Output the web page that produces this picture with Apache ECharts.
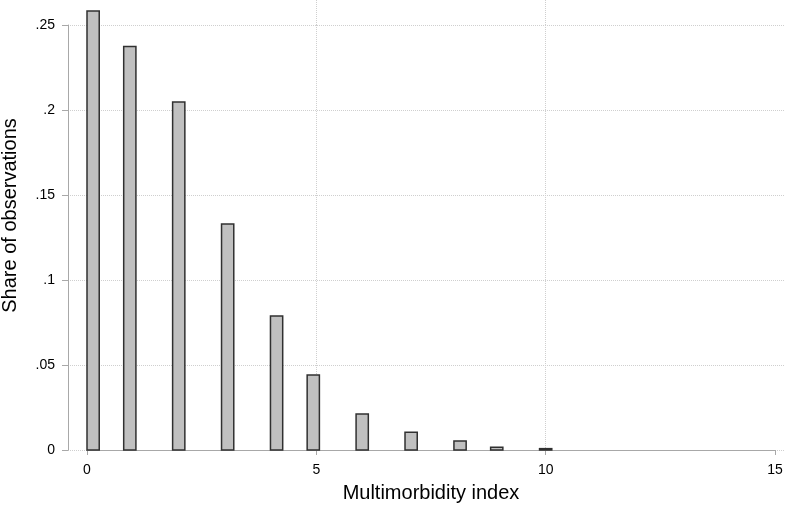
<!DOCTYPE html>
<html>
<head>
<meta charset="utf-8">
<title>Multimorbidity index histogram</title>
<script src="https://cdn.jsdelivr.net/npm/echarts@6/dist/echarts.min.js"></script>
<style>
  html, body { margin: 0; padding: 0; background: #fff; }
  #chart { width: 787px; height: 508px; }
</style>
</head>
<body>
<div id="chart"></div>
<script>
// histogram bins (Stata style): bin index and width in index units
var binWidth = 4 / 15;
var binIndex = [0, 3, 7, 11, 15, 18, 22, 26, 30, 33, 37];
// share of observations in each bin
var shares = [0.2582, 0.2373, 0.2047, 0.1329, 0.0788, 0.0441, 0.0212, 0.0104, 0.0053, 0.0016, 0.0008];
var xTicks = [0, 5, 10, 15];
var yTicks = [0, 0.05, 0.1, 0.15, 0.2, 0.25];

var font = '"Liberation Sans", Arial, sans-serif';
var axisGray = '#a8a8a8';
var gridGray = '#cfcfcf';

// left edge of each bin + its height
var histData = binIndex.map(function (k, i) {
  return [k * binWidth, shares[i]];
});

var chart = echarts.init(document.getElementById('chart'));

var dotted = { color: gridGray, type: 'dotted', width: 1 };
var noAxis = { show: false };

// helper: hidden axes that only draw dotted gridlines
function gridOnlyX(idx) {
  return {
    type: 'value', gridIndex: idx,
    min: xTicks[0], max: xTicks[xTicks.length - 1], interval: 5,
    axisLine: noAxis, axisTick: noAxis, axisLabel: noAxis,
    splitLine: { show: idx === 1, showMinLine: false, showMaxLine: false, lineStyle: dotted }
  };
}
function gridOnlyY(idx) {
  return {
    type: 'value', gridIndex: idx,
    min: yTicks[0], max: yTicks[yTicks.length - 1], interval: 0.05,
    axisLine: noAxis, axisTick: noAxis, axisLabel: noAxis,
    splitLine: { show: idx !== 1, showMinLine: true, showMaxLine: true, lineStyle: dotted }
  };
}

var option = {
  backgroundColor: '#fff',
  animation: false,
  grid: [
    // main plot
    { left: 87, right: 12, top: 25, bottom: 58, containLabel: false, outerBoundsMode: 'none' },
    // strip above .25 so the vertical gridlines run to the top edge
    { left: 87, right: 12, top: 0, height: 25, containLabel: false, outerBoundsMode: 'none' },
    // strips left and right so the horizontal gridlines run out to the frame
    { left: 68, width: 19, top: 25, bottom: 58, containLabel: false, outerBoundsMode: 'none' },
    { left: 775, right: 2, top: 25, bottom: 58, containLabel: false, outerBoundsMode: 'none' }
  ],
  xAxis: [
    {
      type: 'value',
      gridIndex: 0,
      min: xTicks[0],
      max: xTicks[xTicks.length - 1],
      interval: 5,
      name: 'Multimorbidity index',
      nameLocation: 'middle',
      nameGap: 33,
      nameTextStyle: { color: '#000', fontSize: 20, fontFamily: font },
      axisLine: { show: true, onZero: false, lineStyle: { color: axisGray, width: 1 } },
      axisTick: { show: true, length: 5, lineStyle: { color: axisGray, width: 1 } },
      axisLabel: { color: '#000', fontSize: 14, fontFamily: font, margin: 13 },
      splitLine: { show: true, showMinLine: false, showMaxLine: false, lineStyle: dotted }
    },
    gridOnlyX(1),
    gridOnlyX(2),
    gridOnlyX(3)
  ],
  yAxis: [
    {
      type: 'value',
      gridIndex: 0,
      min: yTicks[0],
      max: yTicks[yTicks.length - 1],
      interval: 0.05,
      offset: 19,
      name: 'Share of observations',
      nameLocation: 'middle',
      nameRotate: 90,
      nameGap: 48,
      nameTextStyle: { color: '#000', fontSize: 20, fontFamily: font, padding: [0, 0, 0, 44] },
      axisLine: { show: true, onZero: false, lineStyle: { color: axisGray, width: 1 } },
      axisTick: { show: true, length: 6, lineStyle: { color: axisGray, width: 1 } },
      axisLabel: {
        color: '#000',
        fontSize: 14,
        fontFamily: font,
        margin: 13,
        formatter: function (v) {
          if (v === 0) return '0';
          return String(+v.toFixed(2)).replace(/^0/, '');
        }
      },
      splitLine: { show: true, showMinLine: true, showMaxLine: true, lineStyle: dotted }
    },
    gridOnlyY(1),
    gridOnlyY(2),
    gridOnlyY(3)
  ],
  series: [
    {
      type: 'custom',
      xAxisIndex: 0,
      yAxisIndex: 0,
      clip: false,
      z: 5,
      data: histData,
      encode: { x: 0, y: 1 },
      renderItem: function (params, api) {
        var left = api.value(0);
        var h = api.value(1);
        var p0 = api.coord([left, h]);
        var p1 = api.coord([left + binWidth, 0]);
        return {
          type: 'rect',
          shape: {
            x: p0[0],
            y: p0[1],
            width: p1[0] - p0[0],
            height: p1[1] - p0[1]
          },
          style: {
            fill: '#c0c0c0',
            stroke: '#303030',
            lineWidth: 1.5
          }
        };
      }
    }
  ]
};

chart.setOption(option);
</script>
</body>
</html>
